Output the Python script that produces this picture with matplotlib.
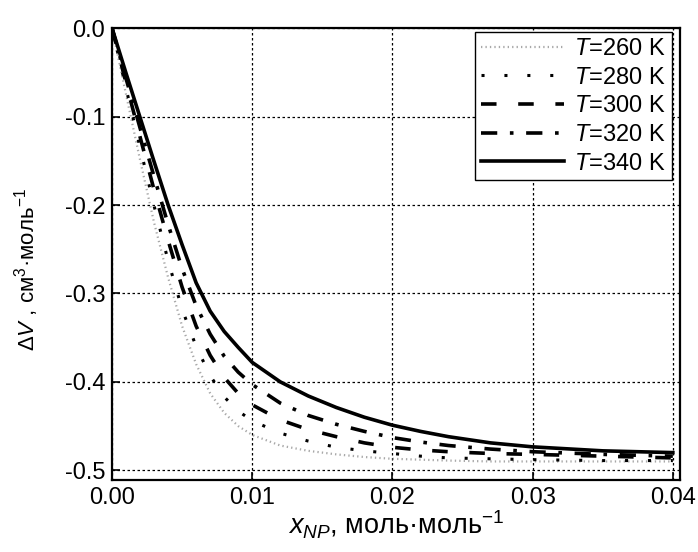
import matplotlib.pyplot as plt
import numpy as np

plt.rcParams['font.family'] = ['Liberation Sans', 'DejaVu Sans']
plt.rcParams['mathtext.fontset'] = 'custom'
plt.rcParams['mathtext.rm'] = 'Liberation Sans'
plt.rcParams['mathtext.it'] = 'Liberation Sans:italic'

# x_NP, mole fraction of nanoparticles
x = [0, 0.001, 0.002, 0.003, 0.004, 0.005, 0.006, 0.007, 0.008, 0.009, 0.010,
     0.012, 0.014, 0.016, 0.018, 0.020, 0.022, 0.024, 0.027, 0.030, 0.035, 0.040]

# excess volume dV, cm3/mol, per temperature
dv_260 = [0, -0.075, -0.149, -0.220, -0.282, -0.337, -0.380, -0.413, -0.435, -0.450, -0.460,
          -0.472, -0.478, -0.482, -0.485, -0.487, -0.488, -0.489, -0.490, -0.490, -0.490, -0.490]
dv_280 = [0, -0.068, -0.135, -0.201, -0.263, -0.318, -0.360, -0.393, -0.417, -0.433, -0.444,
          -0.458, -0.467, -0.474, -0.478, -0.481, -0.484, -0.486, -0.487, -0.488, -0.489, -0.489]
dv_300 = [0, -0.062, -0.123, -0.183, -0.240, -0.293, -0.337, -0.370, -0.395, -0.413, -0.426,
          -0.443, -0.454, -0.462, -0.469, -0.474, -0.477, -0.479, -0.481, -0.482, -0.484, -0.486]
dv_320 = [0, -0.057, -0.113, -0.168, -0.222, -0.272, -0.314, -0.346, -0.371, -0.389, -0.403,
          -0.424, -0.438, -0.448, -0.456, -0.463, -0.468, -0.472, -0.476, -0.479, -0.482, -0.484]
dv_340 = [0, -0.051, -0.101, -0.151, -0.200, -0.245, -0.288, -0.320, -0.343, -0.361, -0.378,
          -0.400, -0.416, -0.429, -0.440, -0.449, -0.456, -0.462, -0.469, -0.4735, -0.478, -0.480]

labels = [r'$T$=260 K', r'$T$=280 K', r'$T$=300 K', r'$T$=320 K', r'$T$=340 K']
xticks = [0, 0.01, 0.02, 0.03, 0.04]
xticklabels = ['0.00', '0.01', '0.02', '0.03', '0.04']
yticks = [0, -0.1, -0.2, -0.3, -0.4, -0.5]
yticklabels = ['0.0', '-0.1', '-0.2', '-0.3', '-0.4', '-0.5']

fig = plt.figure(figsize=(6.98, 5.52), dpi=100)
ax = fig.add_axes([0.1605, 0.1304, 0.8135, 0.8186])

ax.plot(x, dv_260, color='#a8a8a8', lw=1.6, dashes=(0.6, 1.4), label=labels[0])
ax.plot(x, dv_280, color='k', lw=2.2, dashes=(1, 6.5), label=labels[1])
ax.plot(x, dv_300, color='k', lw=2.6, dashes=(4.3, 6.0), label=labels[2])
ax.plot(x, dv_320, color='k', lw=2.6, dashes=(4.5, 3.5, 1, 3.5), label=labels[3])
ax.plot(x, dv_340, color='k', lw=2.6, label=labels[4])

ax.set_xlim(0, 0.0405)
ax.set_ylim(-0.511, 0)
ax.set_xticks(xticks)
ax.set_xticklabels(xticklabels)
ax.set_yticks(yticks)
ax.set_yticklabels(yticklabels)
ax.tick_params(direction='in', length=6, width=1.2, labelsize=17, pad=5)
for s in ax.spines.values():
    s.set_linewidth(1.6)

ax.grid(True, color='k', lw=0.9, dashes=(2, 2))

ax.set_xlabel(r'$x_{NP}$, моль·моль$^{-1}$', fontsize=19.5, labelpad=0)
ax.set_ylabel(r'$\mathit{\Delta V}$ , см$^{3}$·моль$^{-1}$', fontsize=16)
ax.yaxis.set_label_coords(-0.125, 0.465)

leg = ax.legend(loc='upper right', bbox_to_anchor=(0.986, 0.991), fontsize=17,
                handlelength=3.5, frameon=True, fancybox=False, borderaxespad=0,
                labelspacing=0.28, handletextpad=0.45, borderpad=0.25)
leg.get_frame().set_edgecolor('k')
leg.get_frame().set_linewidth(1.0)
leg.get_frame().set_alpha(1)

plt.savefig('out.png', dpi=100)
